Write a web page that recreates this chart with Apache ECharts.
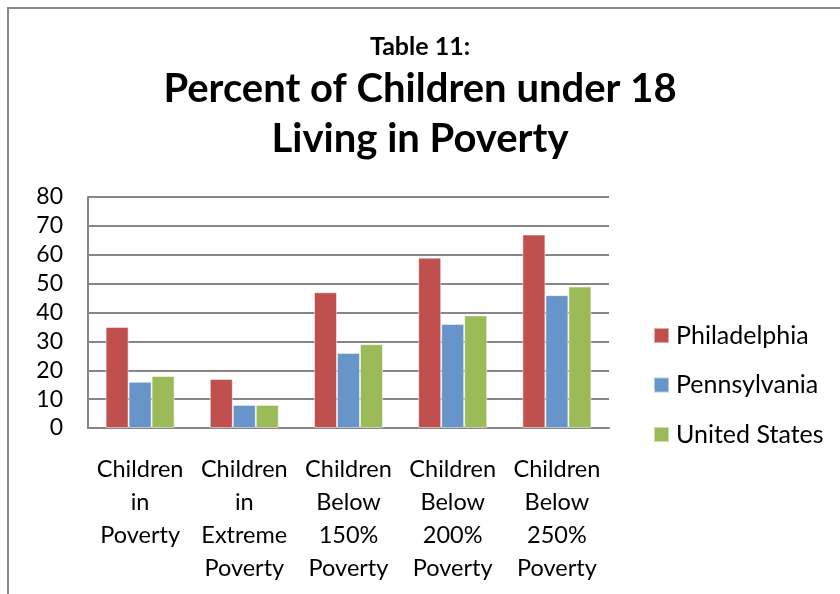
<!DOCTYPE html>
<html><head><meta charset="utf-8">
<script src="https://cdn.jsdelivr.net/npm/echarts@6/dist/echarts.min.js"></script>
<style>html,body{margin:0;padding:0;background:#fff}#c{width:840px;height:594px}</style>
</head><body><div id="c"></div>
<script>
const categories = ["Children\nin\nPoverty","Children\nin\nExtreme\nPoverty","Children\nBelow\n150%\nPoverty","Children\nBelow\n200%\nPoverty","Children\nBelow\n250%\nPoverty"];
const seriesNames = ["Philadelphia","Pennsylvania","United States"];
const philadelphia = [35,17,47,59,67];
const pennsylvania = [16,8,26,36,46];
const unitedStates = [18,8,29,39,49];
const yTicks = [0,10,20,30,40,50,60,70,80];

const FONT = "Lato";
const colors = ["#C0504D","#6794C9","#9BBB59"];
const chart = echarts.init(document.getElementById('c'));
const mk = (name, data, i) => ({
  name, type:'bar', data, barWidth:23, barGap:'0%',
  itemStyle:{color:colors[i], borderColor:'rgba(255,255,255,0.5)', borderWidth:1}
});
chart.setOption({
  animation:false,
  textStyle:{fontFamily:FONT},
  graphic:[{type:'rect', shape:{x:8,y:8,width:850,height:620}, style:{fill:'none',stroke:'#8a8a8a',lineWidth:2}}],
  title:[
    {text:'Table 11:', left:'center', top:29, textStyle:{fontFamily:FONT,fontWeight:'bold',fontSize:25,color:'#000'}},
    {text:'Percent of Children under 18\nLiving in Poverty', left:'center', top:59, textStyle:{fontFamily:FONT,fontWeight:'bold',fontSize:40,lineHeight:50,color:'#000'}}
  ],
  legend:{orient:'vertical', left:648, top:318, itemWidth:15, itemHeight:15, itemGap:24.5, icon:'rect',
    data:seriesNames, textStyle:{fontFamily:FONT,fontSize:25,lineHeight:24,color:'#000',padding:[0,0,0,2]}},
  grid:{left:88, right:231, top:197, bottom:166},
  xAxis:{type:'category', data:categories,
    axisLine:{lineStyle:{color:'#868686',width:2}}, axisTick:{show:false},
    axisLabel:{interval:0, fontFamily:FONT, fontSize:23.5, lineHeight:33, color:'#000', margin:25, verticalAlign:'top'}},
  yAxis:{type:'value', min:0, max:80, interval:10,
    axisLine:{show:true, lineStyle:{color:'#868686',width:2}}, axisTick:{show:false},
    splitLine:{lineStyle:{color:'#868686',width:2}},
    axisLabel:{fontFamily:FONT, fontSize:23, color:'#000', margin:25,
      formatter:v => yTicks.includes(v) ? String(v) : ''}},
  series:[mk(seriesNames[0],philadelphia,0), mk(seriesNames[1],pennsylvania,1), mk(seriesNames[2],unitedStates,2)]
});
</script></body></html>
